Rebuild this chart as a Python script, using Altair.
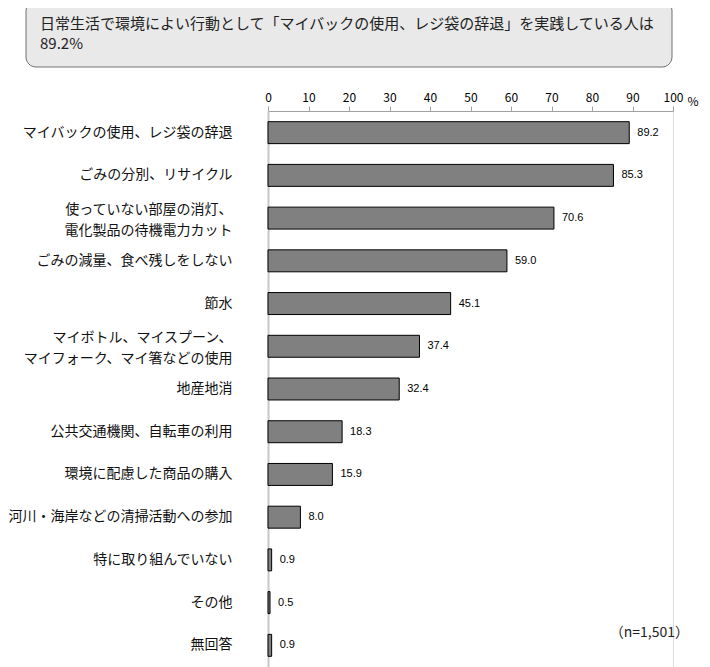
import altair as alt
import pandas as pd

categories = [
    "マイバックの使用、レジ袋の辞退",
    "ごみの分別、リサイクル",
    "使っていない部屋の消灯、\n電化製品の待機電力カット",
    "ごみの減量、食べ残しをしない",
    "節水",
    "マイボトル、マイスプーン、\nマイフォーク、マイ箸などの使用",
    "地産地消",
    "公共交通機関、自転車の利用",
    "環境に配慮した商品の購入",
    "河川・海岸などの清掃活動への参加",
    "特に取り組んでいない",
    "その他",
    "無回答",
]
values = [89.2, 85.3, 70.6, 59.0, 45.1, 37.4, 32.4, 18.3, 15.9, 8.0, 0.9, 0.5, 0.9]
x_ticks = [0, 10, 20, 30, 40, 50, 60, 70, 80, 90, 100]
title_lines = [
    "日常生活で環境によい行動として「マイバックの使用、レジ袋の辞退」を実践している人は",
    "89.2%",
]
note_text = "（n=1,501）"
unit_text = "%"

df = pd.DataFrame({"cat": categories, "value": values})

JP = "Noto Sans CJK JP"
W = 405
H = 556

x_enc = alt.X(
    "value:Q",
    scale=alt.Scale(domain=[0, 100], nice=False),
    axis=alt.Axis(
        orient="top", values=x_ticks, title=None, grid=False,
        domainColor="#a0a0a0", domainWidth=1, tickColor="#a0a0a0", tickSize=5,
        labelFont=JP, labelFontSize=12, labelColor="#000", labelPadding=2,
        labelFlush=False,
    ),
)
y_enc = alt.Y(
    "cat:N", sort=None,
    scale=alt.Scale(paddingInner=0.486, paddingOuter=0.25),
    axis=alt.Axis(
        title=None, ticks=False, domainColor="#c8c8c8", domainWidth=2,
        labelFont=JP, labelFontSize=14, labelColor="#111", labelPadding=36,
        labelLimit=400, labelLineHeight=21,
        labelExpr="split(datum.label, '\\n')",
        labelOffset={"condition": {"test": "indexof(datum.value, '\\n') >= 0", "value": -8},
                     "value": 0},
    ),
)

base = alt.Chart(df)
bars = base.mark_bar(fill="#808080", stroke="#000", strokeWidth=1).encode(x=x_enc, y=y_enc)
labels = base.mark_text(align="left", baseline="middle", dx=8, font="Liberation Sans",
                        fontSize=11, color="#000").encode(
    x="value:Q", y=alt.Y("cat:N", sort=None),
    text=alt.Text("value:Q", format=".1f"),
)

one = alt.Data(values=[{"k": 1}])
box = alt.Chart(one).mark_rect(cornerRadius=10, fill="#e9e9e9", stroke="#707070",
                                strokeWidth=1).encode(
    x=alt.value(-242), x2=alt.value(404), y=alt.value(-110), y2=alt.value(-44))
t1 = alt.Chart(one).mark_text(align="left", baseline="middle", font=JP, fontSize=15,
                              color="#222").encode(
    x=alt.value(-228), y=alt.value(-87), text=alt.value(title_lines[0]))
t2 = alt.Chart(one).mark_text(align="left", baseline="middle", font=JP, fontSize=15,
                              color="#222").encode(
    x=alt.value(-228), y=alt.value(-67), text=alt.value(title_lines[1]))
unit = alt.Chart(one).mark_text(align="center", baseline="middle", font=JP, fontSize=12,
                                color="#000").encode(
    x=alt.value(425), y=alt.value(-9), text=alt.value(unit_text))
note = alt.Chart(one).mark_text(align="right", baseline="middle", font=JP, fontSize=14,
                                color="#222").encode(
    x=alt.value(421), y=alt.value(522), text=alt.value(note_text))

chart = alt.layer(box, t1, t2, bars, labels, unit, note).properties(
    width=W, height=H,
    autosize=alt.AutoSizeParams(type="none"),
    padding={"left": 260, "top": 103, "right": 29, "bottom": 0},
).configure_view(stroke=None).configure(background="#ffffff")

chart.save("out.html", embed_options={"renderer": "svg", "actions": False})
